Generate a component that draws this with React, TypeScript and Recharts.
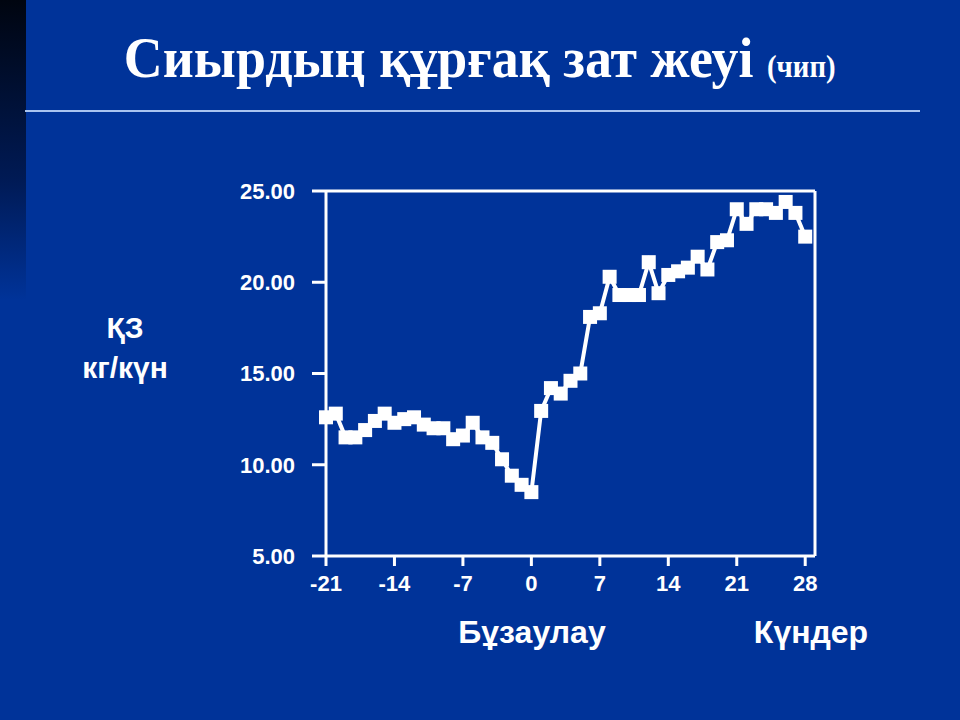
import React from 'react'
import { LineChart, Line, XAxis, YAxis, ReferenceLine } from 'recharts'

// days relative to calving
const days = [
  -21, -20, -19, -18, -17, -16, -15, -14, -13, -12, -11, -10, -9, -8, -7, -6, -5, -4, -3, -2, -1, 0,
  1, 2, 3, 4, 5, 6, 7, 8, 9, 10, 11, 12, 13, 14, 15, 16, 17, 18, 19, 20, 21, 22, 23, 24, 25, 26, 27, 28,
]
// dry matter intake, kg/day
const intake = [
  12.6, 12.8, 11.5, 11.5, 11.9, 12.4, 12.8, 12.3, 12.5, 12.6, 12.2, 12.0, 12.0, 11.4, 11.6, 12.3, 11.5, 11.2, 10.3, 9.4, 8.9, 8.5,
  12.95, 14.2, 13.9, 14.6, 15.0, 18.1, 18.3, 20.3, 19.3, 19.3, 19.3, 21.1, 19.4, 20.4, 20.6, 20.8, 21.4, 20.7, 22.2, 22.3, 24.0, 23.2, 24.0, 24.0, 23.8, 24.4, 23.8, 22.5,
]
const xTicks = [-21, -14, -7, 0, 7, 14, 21, 28]
const yTicks = [5, 10, 15, 20, 25]

const data = days.map((d, i) => ({ day: d, dmi: intake[i] }))

const BG = '#003399'
const SANS = '"Liberation Sans", Arial, sans-serif'
const tickStyle = { fill: '#ffffff', fontSize: 22, fontWeight: 700, fontFamily: SANS }

const SquareDot = (props: any) => {
  const { cx, cy, index } = props
  if (cx == null || cy == null) return null
  return <rect key={`sq-${index}`} x={cx - 7} y={cy - 7} width={14} height={14} fill="#ffffff" />
}

export default function App() {
  return (
    <div style={{ position: 'absolute', left: 0, top: 0, width: 960, height: 720, background: BG, overflow: 'hidden' }}>
      {/* dark strip on the left edge */}
      <div style={{ position: 'absolute', left: 0, top: 0, width: 26, height: 300, background: `linear-gradient(to bottom, #000510 0%, #001a55 60%, ${BG} 100%)` }} />

      {/* title */}
      <div style={{ position: 'absolute', left: 0, top: 24, width: 960, textAlign: 'center', color: '#fff', fontFamily: '"Liberation Serif", "Times New Roman", serif', fontWeight: 700, whiteSpace: 'nowrap' }}>
        <span style={{ display: 'inline-block', transform: 'scaleX(0.93)', transformOrigin: 'center', marginLeft: 0 }}>
          <span style={{ fontSize: 58 }}>Сиырдың құрғақ зат жеуі </span>
          <span style={{ fontSize: 31 }}>(чип)</span>
        </span>
      </div>
      <div style={{ position: 'absolute', left: 25, top: 110, width: 895, height: 2, background: '#a9c4f0' }} />

      {/* y axis title */}
      <div style={{ position: 'absolute', left: 58, top: 308, width: 134, textAlign: 'center', color: '#fff', fontFamily: SANS, fontWeight: 700, fontSize: 30, lineHeight: '40px' }}>
        <div>ҚЗ</div>
        <div>кг/күн</div>
      </div>

      {/* x axis captions */}
      <div style={{ position: 'absolute', left: 432, top: 614, width: 200, textAlign: 'center', color: '#fff', fontFamily: SANS, fontWeight: 700, fontSize: 32 }}>Бұзаулау</div>
      <div style={{ position: 'absolute', left: 711, top: 614, width: 200, textAlign: 'center', color: '#fff', fontFamily: SANS, fontWeight: 700, fontSize: 32 }}>Күндер</div>

      <div style={{ position: 'absolute', left: 0, top: 0 }}>
        <LineChart width={960} height={720} data={data} margin={{ top: 191, right: 145, left: 246, bottom: 134 }}>
          <XAxis
            dataKey="day"
            type="number"
            domain={[-21, 29]}
            ticks={xTicks}
            interval={0}
            stroke="#ffffff"
            strokeWidth={3}
            tickSize={10}
            tickMargin={9}
            tick={tickStyle}
            height={30}
          />
          <YAxis
            type="number"
            domain={[5, 25]}
            ticks={yTicks}
            interval={0}
            stroke="#ffffff"
            strokeWidth={3}
            tickSize={14}
            tickMargin={17}
            tick={tickStyle}
            tickFormatter={(v: number) => v.toFixed(2)}
            width={80}
          />
          <ReferenceLine y={25} stroke="#ffffff" strokeWidth={3} />
          <ReferenceLine x={29} stroke="#ffffff" strokeWidth={3} />
          <Line
            type="linear"
            dataKey="dmi"
            stroke="#ffffff"
            strokeWidth={4}
            dot={SquareDot}
            activeDot={false}
            isAnimationActive={false}
          />
        </LineChart>
      </div>
    </div>
  )
}
